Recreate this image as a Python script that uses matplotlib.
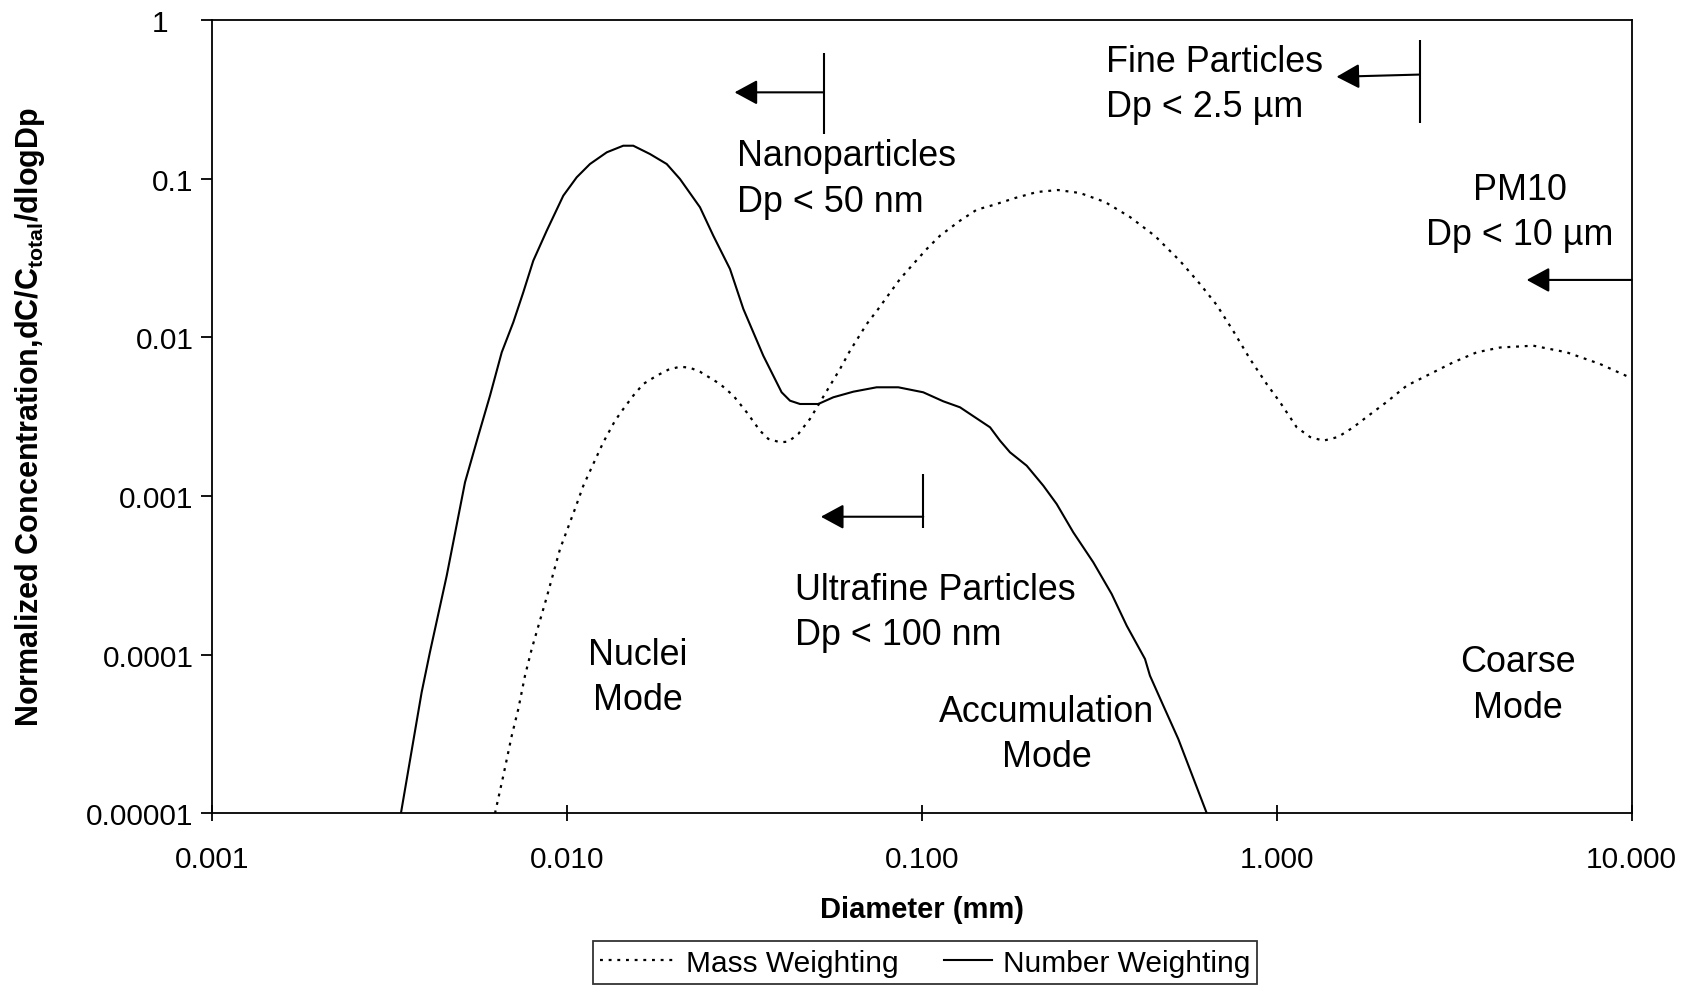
import matplotlib
matplotlib.use('Agg')
import numpy as np
import matplotlib.pyplot as plt
from matplotlib.ticker import NullLocator, FixedLocator, FixedFormatter
from matplotlib.lines import Line2D
from matplotlib.legend_handler import HandlerLine2D

plt.rcParams['font.family'] = ['Liberation Sans', 'DejaVu Sans']
plt.rcParams['mathtext.fontset'] = 'custom'
plt.rcParams['mathtext.rm'] = 'Liberation Sans:bold'
plt.rcParams['mathtext.it'] = 'Liberation Sans:bold'
plt.rcParams['mathtext.bf'] = 'Liberation Sans:bold'
plt.rcParams['mathtext.default'] = 'rm'

# ---------------- data ----------------
number_dp = [0.003412, 0.003903, 0.004118, 0.004592, 0.005171, 0.005637, 0.006081,
             0.006561, 0.007072, 0.007546, 0.008051, 0.008785, 0.009781, 0.01067,
             0.01163, 0.01297, 0.01443, 0.01540, 0.01716, 0.01913, 0.02085, 0.02374,
             0.02588, 0.02884, 0.03145, 0.03579, 0.04031, 0.04256, 0.04541, 0.05113,
             0.05636, 0.06418, 0.07466, 0.08593, 0.1010, 0.1150, 0.1282, 0.1558,
             0.1662, 0.1773, 0.1976, 0.2201, 0.2400, 0.2673, 0.3043, 0.3429, 0.3780,
             0.4256, 0.4395, 0.4793, 0.5282, 0.6354]
number_conc = [1.0e-5, 5.79e-5, 1.035e-4, 3.145e-4, 1.22e-3, 2.40e-3, 4.29e-3,
               8.04e-3, 0.01243, 0.01922, 0.0304, 0.04699, 0.0781, 0.102,
               0.1237, 0.1466, 0.1613, 0.1613, 0.1430, 0.1237, 0.0995, 0.0660,
               0.0437, 0.02695, 0.01509, 0.007658, 0.004503, 0.003987, 0.0038, 0.0038,
               0.004188, 0.004543, 0.004842, 0.004842, 0.004503, 0.003952, 0.003622, 0.002709,
               0.002231, 0.001885, 0.001552, 0.001161, 8.90e-4, 5.90e-4, 3.82e-4, 2.41e-4, 1.522e-4,
               9.39e-5, 7.37e-5, 4.77e-5, 2.94e-5, 1.0e-5]

mass_dp = [0.006281, 0.006629, 0.007001, 0.007307, 0.007630, 0.007969, 0.008785,
           0.009575, 0.01055, 0.01114, 0.01188, 0.01268, 0.01368, 0.01443, 0.01540,
           0.01643, 0.01793, 0.01933, 0.02085, 0.02225, 0.02374, 0.02703, 0.02947,
           0.03214, 0.03503, 0.03697, 0.03990, 0.04209, 0.04491, 0.04845, 0.05170,
           0.05516, 0.05888, 0.06281, 0.07001, 0.07544, 0.07969, 0.08688, 0.09469,
           0.1033, 0.1126, 0.1282, 0.1429, 0.1591, 0.1832, 0.2113, 0.2420, 0.2792,
           0.3283, 0.3862, 0.4543, 0.5341, 0.6081, 0.6776, 0.7545, 0.8410, 0.9371,
           1.0217, 1.1385, 1.2410, 1.3530, 1.4884, 1.6438, 1.7926, 2.0405, 2.3236,
           2.7023, 3.1448, 3.6599, 4.2560, 5.2826, 6.5587, 8.1428, 10.0]
mass_conc = [1.0e-5, 1.726e-5, 3.08e-5, 4.55e-5, 7.37e-5, 1.085e-4, 2.30e-4,
             4.63e-4, 8.28e-4, 1.161e-3, 1.591e-3, 2.18e-3, 2.98e-3, 3.53e-3, 4.29e-3,
             5.08e-3, 5.73e-3, 6.25e-3, 6.53e-3, 6.43e-3, 6.07e-3, 5.08e-3, 4.29e-3,
             3.37e-3, 2.58e-3, 2.29e-3, 2.18e-3, 2.20e-3, 2.46e-3, 3.06e-3, 3.90e-3,
             4.96e-3, 6.32e-3, 8.23e-3, 0.01213, 0.01509, 0.01788, 0.02331, 0.02898,
             0.03602, 0.0437, 0.05433, 0.06374, 0.06823, 0.0755, 0.0824, 0.0848, 0.0812,
             0.0713, 0.0573, 0.0435, 0.0303, 0.02168, 0.01599, 0.01096, 0.0073, 0.00508,
             0.0039, 0.00271, 0.002354, 0.002231, 0.002354, 0.00271, 0.003147, 0.003912, 0.004957,
             0.005872, 0.006962, 0.008044, 0.008625, 0.008856, 0.008044, 0.00679, 0.005516]

x_ticks = [0.001, 0.01, 0.1, 1.0, 10.0]
x_tick_labels = ['0.001', '0.010', '0.100', '1.000', '10.000']
y_ticks = [1e-5, 1e-4, 1e-3, 1e-2, 1e-1, 1.0]
y_tick_labels = ['0.00001', '0.0001', '0.001', '0.01', '0.1', '1   ']

series_labels = ['Mass Weighting', 'Number Weighting']
x_label = 'Diameter (mm)'
y_label = r'Normalized Concentration,dC/C$_{total}$/dlogDp'

# size-class boundaries: (boundary Dp, line y0, line y1, arrow y, arrow tip Dp, arrow tip y)
nano_bound = (0.053, 0.19, 0.62, 0.35, 0.0297, 0.35)
ultra_bound = (0.101, 6.25e-4, 1.37e-3, 7.4e-4, 0.052, 7.4e-4)
fine_bound = (2.53, 0.224, 0.748, 0.453, 1.474, 0.4385)
pm10_bound = (10.0, None, None, 0.023, 5.06, 0.023)

# text labels: (text, x, y, ha)
labels = [
    ('Nanoparticles\nDp < 50 nm', 0.0301, 0.106, 'left'),
    ('Fine Particles\nDp < 2.5 \u00b5m', 0.331, 0.415, 'left'),
    ('PM10\nDp < 10 \u00b5m', 4.83, 0.0648, 'center'),
    ('Ultrafine Particles\nDp < 100 nm', 0.0440, 1.96e-4, 'left'),
    ('Nuclei\nMode', 0.01582, 7.64e-5, 'center'),
    ('Accumulation\nMode', 0.2253, 3.33e-5, 'center'),
    ('Coarse\nMode', 4.78, 6.85e-5, 'center'),
]

# ---------------- figure ----------------
W, H = 1694, 987
fig = plt.figure(figsize=(W / 100, H / 100), dpi=100)
ax_l, ax_r, ax_t, ax_b = 211.7, 1631.7, 21.0, 814.3
ax = fig.add_axes([ax_l / W, 1 - ax_b / H, (ax_r - ax_l) / W, (ax_b - ax_t) / H])

dot_style = (0, (1.3, 2.6))
ax.plot(mass_dp, mass_conc, color='black', lw=1.6, linestyle=dot_style,
        label=series_labels[0])
ax.plot(number_dp, number_conc, color='black', lw=1.5, linestyle='-',
        label=series_labels[1])

ax.set_xscale('log')
ax.set_yscale('log')
ax.set_xlim(0.001, 10)
ax.set_ylim(1e-5, 1)
ax.xaxis.set_major_locator(FixedLocator(x_ticks))
ax.xaxis.set_major_formatter(FixedFormatter(x_tick_labels))
ax.yaxis.set_major_locator(FixedLocator(y_ticks))
ax.yaxis.set_major_formatter(FixedFormatter(y_tick_labels))
ax.xaxis.set_minor_locator(NullLocator())
ax.yaxis.set_minor_locator(NullLocator())

for s in ax.spines.values():
    s.set_linewidth(1.3)
ax.tick_params(axis='x', direction='inout', length=12, width=1.3, labelsize=21.5, pad=17)
ax.tick_params(axis='y', direction='out', length=8, width=1.3, labelsize=21.5, pad=5)

# boundaries with arrows
arrow_kw = dict(arrowstyle='-|>,head_length=0.7,head_width=0.38', color='black',
                lw=1.5, shrinkA=0, shrinkB=0, mutation_scale=20)
for b in [nano_bound, ultra_bound, fine_bound, pm10_bound]:
    xb, y0, y1, ya, xt, yt = b
    if y0 is not None:
        ax.plot([xb, xb], [y0, y1], color='black', lw=1.5, solid_capstyle='butt')
    ax.annotate('', xy=(xt, yt), xytext=(xb, ya), arrowprops=arrow_kw, annotation_clip=False)

for txt, x, y, ha in labels:
    ax.annotate(txt, xy=(x, y), xytext=(0, -2.7), textcoords='offset points',
                ha=ha, va='center', fontsize=25.8, linespacing=1.38, multialignment=ha)

fig.text(921.7 / W, 1 - 909.7 / H, x_label, ha='center', va='center',
         fontsize=21, fontweight='bold')
fig.text(30 / W, 1 - 417 / H, y_label, ha='center', va='center', rotation=90,
         fontsize=22, fontweight='bold')


class PartialHandler(HandlerLine2D):
    """Line handle drawn over the right-hand fraction of the handle box."""
    def __init__(self, frac=1.0, **kw):
        super().__init__(**kw)
        self.frac = frac

    def create_artists(self, legend, orig_handle, xdescent, ydescent, width, height,
                       fontsize, trans):
        arts = super().create_artists(legend, orig_handle, xdescent, ydescent, width,
                                      height, fontsize, trans)
        x1 = width - xdescent
        x0 = x1 - width * self.frac
        for a in arts:
            if isinstance(a, Line2D):
                xd = np.asarray(a.get_xdata(), dtype=float)
                a.set_xdata(np.linspace(x0, x1, len(xd)))
        return arts


h_mass = Line2D([], [], color='black', lw=1.6, linestyle=dot_style)
h_num = Line2D([], [], color='black', lw=1.5)
leg = fig.legend([h_mass, h_num], series_labels, loc='center',
                 bbox_to_anchor=(925.3 / W, 1 - 963.6 / H),
                 ncol=2, fontsize=21.5, frameon=True, fancybox=False, edgecolor='black',
                 borderpad=0.24, handlelength=2.5, handletextpad=0.35, columnspacing=0.65,
                 borderaxespad=0,
                 handler_map={h_mass: PartialHandler(1.0), h_num: PartialHandler(0.65)})
leg.get_frame().set_linewidth(1.3)

fig.savefig('out.png', dpi=100)
